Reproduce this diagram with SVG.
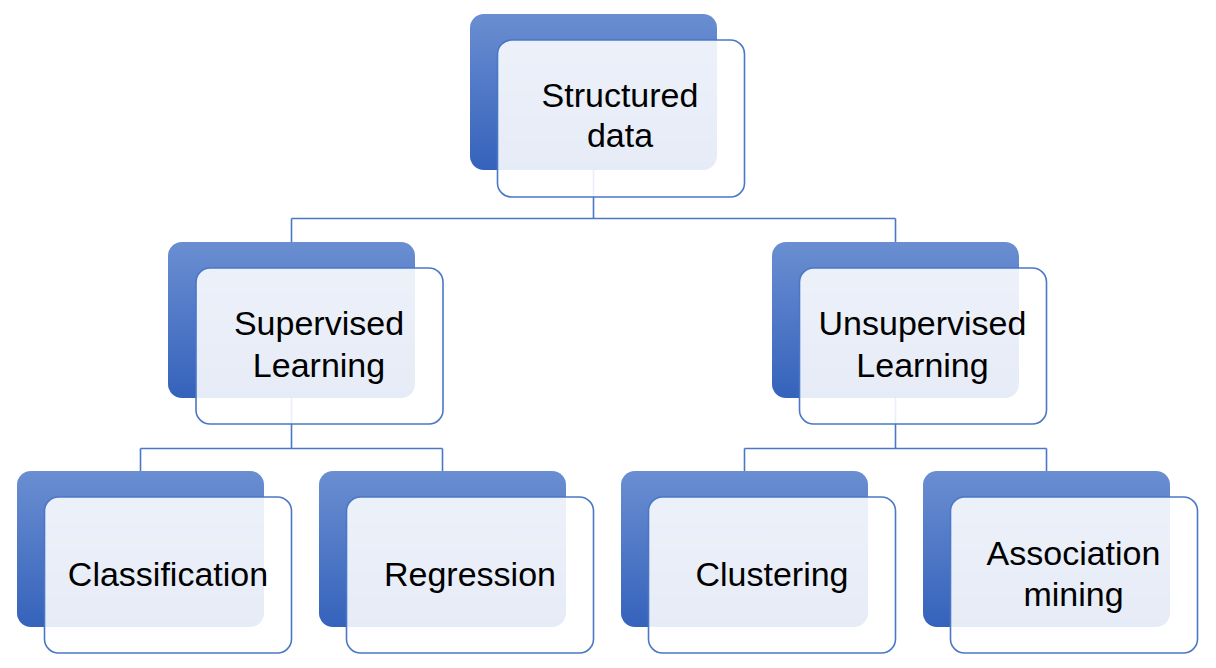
<svg xmlns="http://www.w3.org/2000/svg" width="1216" height="668" viewBox="0 0 1216 668">
<defs>
<linearGradient id="g" x1="0" y1="0" x2="0" y2="1">
<stop offset="0" stop-color="#6A8ED1"/>
<stop offset="1" stop-color="#3562BB"/>
</linearGradient>
<style>
.back{fill:url(#g);stroke:none}
.front{fill:#ffffff;fill-opacity:0.88;stroke:#4A77C6;stroke-width:1.6}
.conn{fill:none;stroke:#4A77C6;stroke-width:1.6}
text{font-family:"Liberation Sans",Arial,sans-serif;font-size:34px;fill:#000;text-anchor:middle}
</style>
</defs>
<rect width="1216" height="668" fill="#ffffff"/>
<g id="connectors">
<path class="conn" d="M593.5 170V218.5M291.5 218.5H895.5M291.5 218.5V242M895.5 218.5V242"/>
<path class="conn" d="M291.5 398V448.5M140.5 448.5H442.5M140.5 448.5V471M442.5 448.5V471"/>
<path class="conn" d="M895.5 398V448.5M744.5 448.5H1046.5M744.5 448.5V471M1046.5 448.5V471"/>
</g>
<g id="structured">
<rect class="back" x="470" y="14" width="247" height="156" rx="14"/>
<rect class="front" x="497.5" y="40" width="247" height="157" rx="14"/>
<text x="620" y="107">Structured</text>
<text x="620" y="147">data</text>
</g>
<g id="supervised">
<rect class="back" x="168" y="242" width="247" height="156" rx="14"/>
<rect class="front" x="196" y="268" width="247" height="156" rx="14"/>
<text x="319" y="335">Supervised</text>
<text x="319" y="377">Learning</text>
</g>
<g id="unsupervised">
<rect class="back" x="772" y="242" width="247" height="156" rx="14"/>
<rect class="front" x="799.5" y="268" width="247" height="156" rx="14"/>
<text x="922.5" y="335">Unsupervised</text>
<text x="922.5" y="377">Learning</text>
</g>
<g id="classification">
<rect class="back" x="17" y="471" width="247" height="156" rx="14"/>
<rect class="front" x="44.5" y="497" width="247" height="156" rx="14"/>
<text x="168" y="586">Classification</text>
</g>
<g id="regression">
<rect class="back" x="319" y="471" width="247" height="156" rx="14"/>
<rect class="front" x="346.5" y="497" width="247" height="156" rx="14"/>
<text x="470" y="586">Regression</text>
</g>
<g id="clustering">
<rect class="back" x="621" y="471" width="247" height="156" rx="14"/>
<rect class="front" x="648.5" y="497" width="247" height="156" rx="14"/>
<text x="772" y="586">Clustering</text>
</g>
<g id="association">
<rect class="back" x="923" y="471" width="247" height="156" rx="14"/>
<rect class="front" x="950.5" y="497" width="247" height="156" rx="14"/>
<text x="1073.5" y="565">Association</text>
<text x="1073.5" y="606">mining</text>
</g>
</svg>
